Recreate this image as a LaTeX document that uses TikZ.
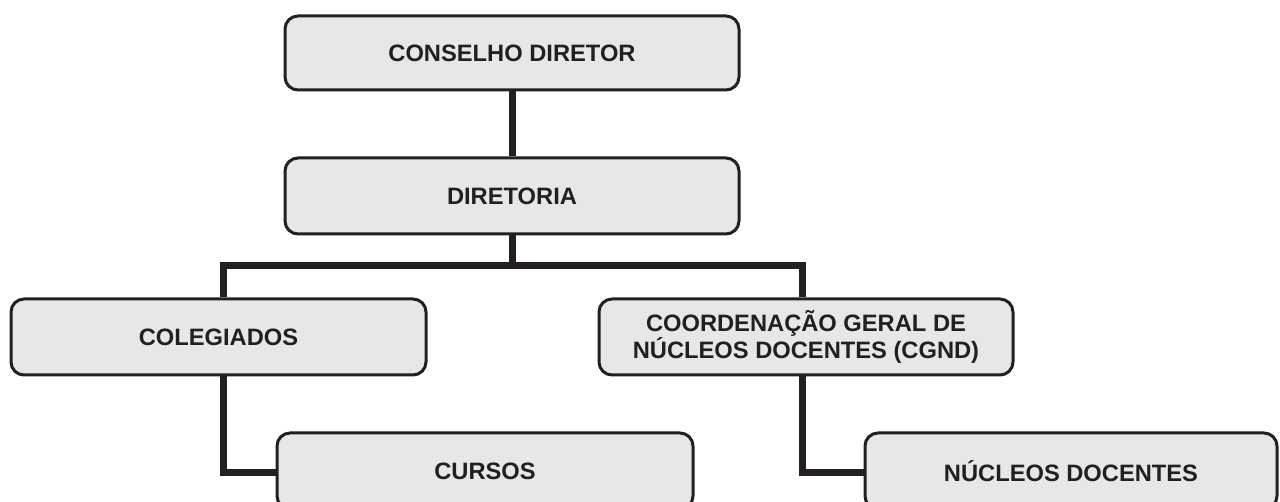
\documentclass[tikz,border=0pt]{standalone}
\usepackage{fontspec}
\setmainfont{Liberation Sans}
\definecolor{boxfill}{HTML}{E6E7E8}
\definecolor{ink}{HTML}{231F20}
\begin{document}
\begin{tikzpicture}[x=1pt,y=-1pt,
  orgbox/.style={draw=ink, fill=boxfill, line width=3pt, rounded corners=13pt,
    inner sep=0pt, align=center, text=ink,
    font=\fontsize{23.7}{24.5}\selectfont\bfseries},
  link/.style={draw=ink, line width=7pt, line join=miter}]
\useasboundingbox (0,0) rectangle (1280,502);
\clip (0,0) rectangle (1280,502);
\node[orgbox, minimum width=454pt, minimum height=74pt] (cd) at (512,53) {CONSELHO DIRETOR};
\node[orgbox, minimum width=454pt, minimum height=76pt] (dir) at (512,196) {DIRETORIA};
\node[orgbox, minimum width=415pt, minimum height=76pt] (col) at (218.5,337) {COLEGIADOS};
\node[orgbox, minimum width=414pt, minimum height=76pt] (cg) at (806,337) {COORDENAÇÃO GERAL DE\\NÚCLEOS DOCENTES (CGND)};
\node[orgbox, minimum width=416pt, minimum height=76pt] (cur) at (485,471) {CURSOS};
\node[orgbox, minimum width=412pt, minimum height=76pt] (nuc) at (1071,471) {NÚCLEOS DOCENTES};
\coordinate (jl) at (223,266);
\coordinate (jr) at (802,266);
\coordinate (bl) at (223,472);
\coordinate (br) at (802,472);
\begin{scope}[on background layer/.try]
\end{scope}
\path[link] (cd.south) -- (dir.north);
\path[link] (dir.south) -- (dir.south |- jl);
\path[link] (col.north -| jl) -- (jl) -- (jr) -- (cg.north -| jr);
\path[link] (col.south -| bl) -- (bl) -- (cur.west |- bl);
\path[link] (cg.south -| br) -- (br) -- (nuc.west |- br);
\end{tikzpicture}
\end{document}
